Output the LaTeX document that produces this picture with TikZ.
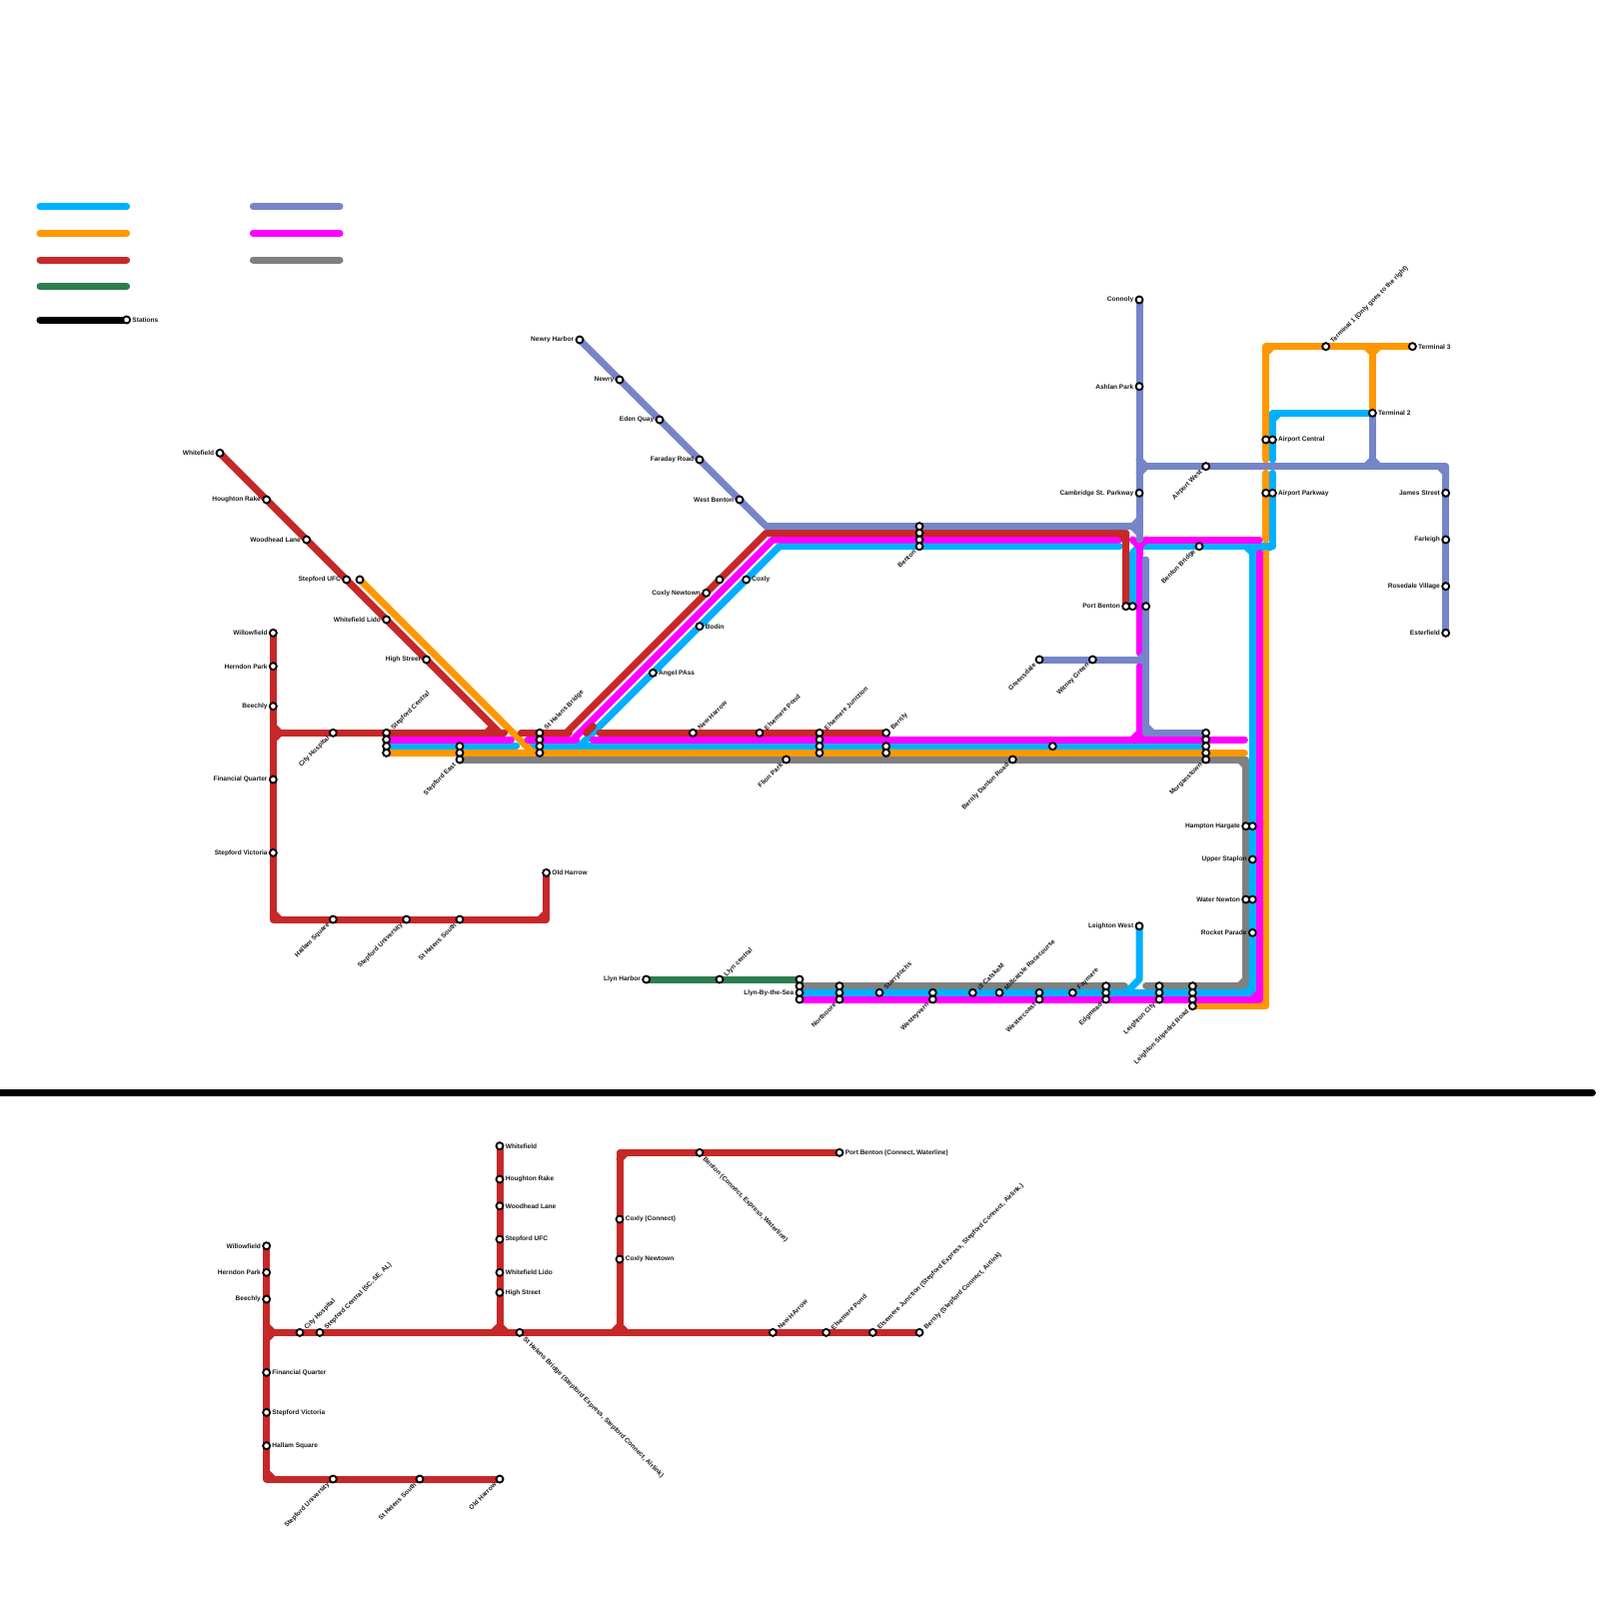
\documentclass[tikz,border=0pt]{standalone}
\usepackage{fontspec}
\setmainfont{Liberation Sans}
\usepackage{xcolor}
\definecolor{mapblue}{RGB}{0,176,255}
\definecolor{maporange}{RGB}{255,152,0}
\definecolor{mapred}{RGB}{198,40,40}
\definecolor{mapgreen}{RGB}{46,125,80}
\definecolor{mappurple}{RGB}{117,133,200}
\definecolor{mapmagenta}{RGB}{255,0,255}
\definecolor{mapgray}{RGB}{128,128,128}
\usetikzlibrary{backgrounds}
\tikzset{
  mline/.style={line width=1.05mm, line cap=round, line join=round},
  lblue/.style={mline, mapblue},
  lorange/.style={mline, maporange},
  lred/.style={mline, mapred},
  lgreen/.style={mline, mapgreen},
  lpurple/.style={mline, mappurple},
  lmagenta/.style={mline, mapmagenta},
  lgray/.style={mline, mapgray},
  lblack/.style={mline, black},
  stn/.style={circle, draw=black, fill=white, line width=0.28mm, inner sep=0pt, minimum size=1.05mm},
  stlabel/.style={font=\fontsize{2.8}{3.3}\selectfont\bfseries, text=black!90, inner sep=0pt},
  lblL/.style={stlabel, xshift=-0.8mm, anchor=east},
  lblR/.style={stlabel, xshift=0.8mm, anchor=west},
  lblUR/.style={stlabel, xshift=0.85mm, yshift=0.55mm, rotate=45, anchor=west},
  lblDL/.style={stlabel, xshift=-0.65mm, yshift=-0.65mm, rotate=45, anchor=east},
  lblDR/.style={stlabel, xshift=0.6mm, yshift=-0.8mm, rotate=-45, anchor=west},
}

\begin{document}
\begin{tikzpicture}[x=1mm, y=-1mm]
  \useasboundingbox (0,0) rectangle (240,240);

  % Legend
  \node[stn] (legstn) at (19,48) {};
  \node[lblR] (legstnT) at (legstn) {Stations};
  \coordinate (legA) at (6,31);   \coordinate (legAe) at (19,31);
  \coordinate (legB) at (6,35);   \coordinate (legBe) at (19,35);
  \coordinate (legC) at (6,39);   \coordinate (legCe) at (19,39);
  \coordinate (legD) at (6,43);   \coordinate (legDe) at (19,43);
  \coordinate (legE) at (6,48);
  \coordinate (legF) at (38,31);  \coordinate (legFe) at (51,31);
  \coordinate (legG) at (38,35);  \coordinate (legGe) at (51,35);
  \coordinate (legH) at (38,39);  \coordinate (legHe) at (51,39);
  \coordinate (sepL) at (0,164);  \coordinate (sepR) at (239,164);

  % Red line, west branch
  \node[stn] (whitefield) at (33,68) {};    \node[lblL] (whitefieldT) at (whitefield) {Whitefield};
  \node[stn] (houghton) at (40,75) {};      \node[lblL] (houghtonT) at (houghton) {Houghton Rake};
  \node[stn] (woodhead) at (46,81) {};      \node[lblL] (woodheadT) at (woodhead) {Woodhead Lane};
  \node[stn] (ufc) at (52,87) {};           \node[lblL] (ufcT) at (ufc) {Stepford UFC};
  \node[stn] (ufcb) at (54,87) {};
  \node[stn] (lido) at (58,93) {};          \node[lblL] (lidoT) at (lido) {Whitefield Lido};
  \node[stn] (highst) at (64,99) {};        \node[lblL] (highstT) at (highst) {High Street};
  \node[stn] (willow) at (41,95) {};        \node[lblL] (willowT) at (willow) {Willowfield};
  \node[stn] (herndon) at (41,100) {};      \node[lblL] (herndonT) at (herndon) {Herndon Park};
  \node[stn] (beechly) at (41,106) {};      \node[lblL] (beechlyT) at (beechly) {Beechly};
  \node[stn] (finq) at (41,117) {};         \node[lblL] (finqT) at (finq) {Financial Quarter};
  \node[stn] (vict) at (41,128) {};         \node[lblL] (victT) at (vict) {Stepford Victoria};
  \node[stn] (hallam) at (50,138) {};       \node[lblDL] (hallamT) at (hallam) {Hallam Square};
  \node[stn] (univ) at (61,138) {};         \node[lblDL] (univT) at (univ) {Stepford University};
  \node[stn] (south) at (69,138) {};        \node[lblDL] (southT) at (south) {St Helens South};
  \node[stn] (oldh) at (82,131) {};         \node[lblR] (oldhT) at (oldh) {Old Harrow};
  \node[stn] (cityh) at (50,110) {};        \node[lblDL] (cityhT) at (cityh) {City Hospital};

  % Stacked interchanges along the main trunk
  \node[stn] (sca) at (58,110) {};  \node[stn] (scb) at (58,111) {};
  \node[stn] (scc) at (58,112) {};  \node[stn] (scd) at (58,113) {};
  \node[lblUR] (scT) at (sca) {Stepford Central};
  \node[stn] (sea) at (69,112) {};  \node[stn] (seb) at (69,113) {};  \node[stn] (sec) at (69,114) {};
  \node[lblDL] (seT) at (sec) {Stepford East};
  \node[stn] (hba) at (81,110) {};  \node[stn] (hbb) at (81,111) {};
  \node[stn] (hbc) at (81,112) {};  \node[stn] (hbd) at (81,113) {};
  \node[lblUR] (hbT) at (hba) {St Helens Bridge};
  \node[stn] (newh) at (104,110) {};   \node[lblUR] (newhT) at (newh) {New Harrow};
  \node[stn] (epond) at (114,110) {};  \node[lblUR] (epondT) at (epond) {Elsemere Pond};
  \node[stn] (eja) at (123,110) {};  \node[stn] (ejb) at (123,111) {};
  \node[stn] (ejc) at (123,112) {};  \node[stn] (ejd) at (123,113) {};
  \node[lblUR] (ejT) at (eja) {Elsemere Junction};
  \node[stn] (bera) at (133,110) {};  \node[stn] (berb) at (133,112) {};  \node[stn] (berc) at (133,113) {};
  \node[lblUR] (berT) at (bera) {Berrily};
  \node[stn] (flion) at (118,114) {};   \node[lblDL] (flionT) at (flion) {Flion Park};
  \node[stn] (bdr) at (152,114) {};     \node[lblDL] (bdrT) at (bdr) {Berrily Danton Road};
  \node[stn] (midb) at (158,112) {};
  \node[stn] (moa) at (181,110) {};  \node[stn] (mob) at (181,111) {};  \node[stn] (moc) at (181,112) {};
  \node[stn] (mod) at (181,113) {};  \node[stn] (moe) at (181,114) {};
  \node[lblDL] (moT) at (moe) {Morganstown};

  % Diagonals
  \node[stn] (cnewt) at (106,89) {};  \node[lblL] (cnewtT) at (cnewt) {Coxly Newtown};
  \node[stn] (cnewb) at (108,87) {};
  \node[stn] (coxly) at (112,87) {};  \node[lblR] (coxlyT) at (coxly) {Coxly};
  \node[stn] (bodin) at (105,94) {};  \node[lblR] (bodinT) at (bodin) {Bodin};
  \node[stn] (angel) at (98,101) {};  \node[lblR] (angelT) at (angel) {Angel PAss};
  \node[stn] (nharb) at (87,51) {};   \node[lblL] (nharbT) at (nharb) {Newry Harbor};
  \node[stn] (newry) at (93,57) {};   \node[lblL] (newryT) at (newry) {Newry};
  \node[stn] (eden) at (99,63) {};    \node[lblL] (edenT) at (eden) {Eden Quay};
  \node[stn] (farad) at (105,69) {};  \node[lblL] (faradT) at (farad) {Faraday Road};
  \node[stn] (wbent) at (111,75) {};  \node[lblL] (wbentT) at (wbent) {West Benton};

  % Top trunk and airport
  \node[stn] (bena) at (138,79) {};  \node[stn] (benb) at (138,80) {};
  \node[stn] (benc) at (138,81) {};  \node[stn] (bend) at (138,82) {};
  \node[lblDL] (benT) at (bend) {Benton};
  \node[stn] (connoly) at (171,45) {};  \node[lblL] (connolyT) at (connoly) {Connoly};
  \node[stn] (ashlan) at (171,58) {};   \node[lblL] (ashlanT) at (ashlan) {Ashlan Park};
  \node[stn] (cambr) at (171,74) {};    \node[lblL] (cambrT) at (cambr) {Cambridge St. Parkway};
  \node[stn] (pbena) at (169,91) {};  \node[stn] (pbenb) at (170,91) {};  \node[stn] (pbenc) at (172,91) {};
  \node[lblL] (pbenT) at (pbena) {Port Benton};
  \node[stn] (awest) at (181,70) {};  \node[lblDL] (awestT) at (awest) {Airport West};
  \node[stn] (bbrid) at (180,82) {};  \node[lblDL] (bbridT) at (bbrid) {Benton Bridge};
  \node[stn] (termA) at (199,52) {};  \node[lblUR] (termAT) at (termA) {Terminal 1 (Only goes to the right)};
  \node[stn] (termC) at (212,52) {};  \node[lblR] (termCT) at (termC) {Terminal 3};
  \node[stn] (termB) at (206,62) {};  \node[lblR] (termBT) at (termB) {Terminal 2};
  \node[stn] (acena) at (190,66) {};  \node[stn] (acenb) at (191,66) {};
  \node[lblR] (acenT) at (acenb) {Airport Central};
  \node[stn] (apara) at (190,74) {};  \node[stn] (aparb) at (191,74) {};
  \node[lblR] (aparT) at (aparb) {Airport Parkway};
  \node[stn] (james) at (217,74) {};  \node[lblL] (jamesT) at (james) {James Street};
  \node[stn] (farl) at (217,81) {};   \node[lblL] (farlT) at (farl) {Farleigh};
  \node[stn] (rose) at (217,88) {};   \node[lblL] (roseT) at (rose) {Rosedale Village};
  \node[stn] (ester) at (217,95) {};  \node[lblL] (esterT) at (ester) {Esterfield};
  \node[stn] (green) at (156,99) {};  \node[lblDL] (greenT) at (green) {Greensdale};
  \node[stn] (witney) at (164,99) {}; \node[lblDL] (witneyT) at (witney) {Witney Green};

  % East side
  \node[stn] (hama) at (187,124) {};  \node[stn] (hamb) at (188,124) {};
  \node[lblL] (hamT) at (hama) {Hampton Hargate};
  \node[stn] (upper) at (188,129) {}; \node[lblL] (upperT) at (upper) {Upper Staplon};
  \node[stn] (wata) at (187,135) {};  \node[stn] (watb) at (188,135) {};
  \node[lblL] (watT) at (wata) {Water Newton};
  \node[stn] (rocket) at (188,140) {};  \node[lblL] (rocketT) at (rocket) {Rocket Parade};
  \node[stn] (lwest) at (171,139) {};   \node[lblL] (lwestT) at (lwest) {Leighton West};

  % South trunk
  \node[stn] (lharb) at (97,147) {};  \node[lblL] (lharbT) at (lharb) {Llyn Harbor};
  \node[stn] (lcent) at (108,147) {}; \node[lblUR] (lcentT) at (lcent) {Llyn central};
  \node[stn] (lsa) at (120,147) {};  \node[stn] (lsb) at (120,148) {};
  \node[stn] (lsc) at (120,149) {};  \node[stn] (lsd) at (120,150) {};
  \node[lblL] (lsT) at (lsc) {Llyn-By-the-Sea};
  \node[stn] (nora) at (126,148) {};  \node[stn] (norb) at (126,149) {};  \node[stn] (norc) at (126,150) {};
  \node[lblDL] (norT) at (norc) {Northoore};
  \node[stn] (starry) at (132,149) {};  \node[lblUR] (starryT) at (starry) {Starrylochs};
  \node[stn] (weya) at (140,149) {};  \node[stn] (weyb) at (140,150) {};
  \node[lblDL] (weyT) at (weyb) {Westeyvern};
  \node[stn] (catsk) at (146,149) {};  \node[lblUR] (catskT) at (catsk) {ill CatskeM};
  \node[stn] (millc) at (150,149) {};  \node[lblUR] (millcT) at (millc) {Millcatsle Racecourse};
  \node[stn] (wcoa) at (156,149) {};  \node[stn] (wcob) at (156,150) {};
  \node[lblDL] (wcoT) at (wcob) {Westercoast};
  \node[stn] (faym) at (161,149) {};  \node[lblUR] (faymT) at (faym) {Faymere};
  \node[stn] (edga) at (166,148) {};  \node[stn] (edgb) at (166,149) {};  \node[stn] (edgc) at (166,150) {};
  \node[lblDL] (edgT) at (edgc) {Edgmead};
  \node[stn] (lcia) at (174,148) {};  \node[stn] (lcib) at (174,149) {};  \node[stn] (lcic) at (174,150) {};
  \node[lblDL] (lciT) at (lcic) {Leighton City};
  \node[stn] (lsra) at (179,148) {};  \node[stn] (lsrb) at (179,149) {};
  \node[stn] (lsrc) at (179,150) {};  \node[stn] (lsrd) at (179,151) {};
  \node[lblDL] (lsrT) at (lsrd) {Leighton Stipedrd Road};

  % Lower map
  \node[stn] (xwillow) at (40,187) {};   \node[lblL] (xwillowT) at (xwillow) {Willowfield};
  \node[stn] (xherndon) at (40,191) {};  \node[lblL] (xherndonT) at (xherndon) {Herndon Park};
  \node[stn] (xbeechly) at (40,195) {};  \node[lblL] (xbeechlyT) at (xbeechly) {Beechly};
  \node[stn] (xfinq) at (40,206) {};     \node[lblR] (xfinqT) at (xfinq) {Financial Quarter};
  \node[stn] (xvict) at (40,212) {};     \node[lblR] (xvictT) at (xvict) {Stepford Victoria};
  \node[stn] (xhallam) at (40,217) {};   \node[lblR] (xhallamT) at (xhallam) {Hallam Square};
  \node[stn] (xuniv) at (50,222) {};     \node[lblDL] (xunivT) at (xuniv) {Stepford University};
  \node[stn] (xsouth) at (63,222) {};    \node[lblDL] (xsouthT) at (xsouth) {St Helens South};
  \node[stn] (xoldh) at (75,222) {};     \node[lblDL] (xoldhT) at (xoldh) {Old Harrow};
  \node[stn] (xcityh) at (45,200) {};    \node[lblUR] (xcityhT) at (xcityh) {City Hospital};
  \node[stn] (xsc) at (48,200) {};       \node[lblUR] (xscT) at (xsc) {Stepford Central (SC, SE, AL)};
  \node[stn] (xwhite) at (75,172) {};    \node[lblR] (xwhiteT) at (xwhite) {Whitefield};
  \node[stn] (xhough) at (75,177) {};    \node[lblR] (xhoughT) at (xhough) {Houghton Rake};
  \node[stn] (xwood) at (75,181) {};     \node[lblR] (xwoodT) at (xwood) {Woodhead Lane};
  \node[stn] (xufc) at (75,186) {};      \node[lblR] (xufcT) at (xufc) {Stepford UFC};
  \node[stn] (xlido) at (75,191) {};     \node[lblR] (xlidoT) at (xlido) {Whitefield Lido};
  \node[stn] (xhigh) at (75,194) {};     \node[lblR] (xhighT) at (xhigh) {High Street};
  \node[stn] (xhb) at (78,200) {};       \node[lblDR] (xhbT) at (xhb) {St Helens Bridge (Stepford Express, Stepford Connect, Airlink)};
  \node[stn] (xcoxly) at (93,183) {};    \node[lblR] (xcoxlyT) at (xcoxly) {Coxly (Connect)};
  \node[stn] (xcnewt) at (93,189) {};    \node[lblR] (xcnewtT) at (xcnewt) {Coxly Newtown};
  \node[stn] (xbenton) at (105,173) {};  \node[lblDR] (xbentonT) at (xbenton) {Benton (Connect, Express, Waterline)};
  \node[stn] (xpben) at (126,173) {};    \node[lblR] (xpbenT) at (xpben) {Port Benton (Connect, Waterline)};
  \node[stn] (xnewh) at (116,200) {};    \node[lblUR] (xnewhT) at (xnewh) {New HArrow};
  \node[stn] (xepond) at (124,200) {};   \node[lblUR] (xepondT) at (xepond) {Elsemere Pond};
  \node[stn] (xej) at (131,200) {};      \node[lblUR] (xejT) at (xej) {Elsemere Junction (Stepford Express, Stepford Connect, Airlink.)};
  \node[stn] (xber) at (138,200) {};     \node[lblUR] (xberT) at (xber) {Berrily (Stepford Connect, Airlink)};

  % Free line ends and bends
  \coordinate (redHub) at (41,110);      \coordinate (redFoot) at (41,138);
  \coordinate (redCorn) at (82,138);     \coordinate (redDiag) at (75,110);
  \coordinate (redGapL) at (75.7,110);   \coordinate (redGapR) at (78.2,110);
  \coordinate (redElbow) at (85,110);    \coordinate (redTop) at (115,80);
  \coordinate (redStub) at (85.4,110);
  \coordinate (redEast) at (169,80);     \coordinate (redNubA) at (88,110);
  \coordinate (redNubB) at (89,109);     \coordinate (redResume) at (90,110);
  \coordinate (magGapL) at (76.7,111);   \coordinate (magGapR) at (79.2,111);
  \coordinate (magElbow) at (86,111);    \coordinate (magTop) at (116,81);
  \coordinate (magStub) at (86.5,111);
  \coordinate (magEndW) at (168,81);     \coordinate (magEndE) at (172,81);
  \coordinate (magCross) at (189,81);    \coordinate (magResume) at (89,111);
  \coordinate (magRowE) at (186.8,111);  \coordinate (magStemA) at (171,82);
  \coordinate (magStemB) at (171,98);    \coordinate (magStemC) at (171,100);
  \coordinate (magStemD) at (171,111);   \coordinate (magColT) at (189,83);
  \coordinate (magSouth) at (189,150);
  \coordinate (bluGapL) at (77.5,112);   \coordinate (bluGapR) at (79.5,112);
  \coordinate (bluElbow) at (87,112);    \coordinate (bluTop) at (117,82);
  \coordinate (bluEndW) at (168,82);     \coordinate (bluNeck) at (171,82);
  \coordinate (bluElb) at (170,83);      \coordinate (bluCol) at (188,83);
  \coordinate (bluCorn) at (191,82);     \coordinate (bluUp) at (191,71);
  \coordinate (bluUpB) at (191,69);      \coordinate (bluBend) at (191,62);
  \coordinate (bluSouth) at (188,149);   \coordinate (bluWest) at (171,147);
  \coordinate (bluFoot) at (169,149);
  \coordinate (orgDiag) at (80,113);     \coordinate (orgEast) at (186.8,113);
  \coordinate (orgCol) at (190,71);      \coordinate (orgColT) at (190,81);
  \coordinate (orgColU) at (190,83);     \coordinate (orgFoot) at (190,151);
  \coordinate (orgUp) at (190,69);       \coordinate (orgCorn) at (190,52);
  \coordinate (orgJoin) at (206,52);
  \coordinate (gryEast) at (187,114);    \coordinate (gryLow) at (187,148);
  \coordinate (gryGapL) at (168.8,148);  \coordinate (gryGapR) at (172,148);
  \coordinate (purTop) at (115,79);      \coordinate (purEast) at (170,79);
  \coordinate (purBend) at (171,78);     \coordinate (purTail) at (171,81);
  \coordinate (purHub) at (171,70);      \coordinate (purCorn) at (217,70);
  \coordinate (purJoin) at (206,70);     \coordinate (purStem) at (172,84);
  \coordinate (purLow) at (172,110);     \coordinate (purLink) at (172,99);
  \coordinate (xredHub) at (40,200);     \coordinate (xredFoot) at (40,222);
  \coordinate (xredT) at (75,200);       \coordinate (xredU) at (93,200);
  \coordinate (xredCorn) at (93,173);

  \begin{scope}[on background layer]
    % Legend lines
    \draw[lblue] (legA) -- (legAe);
    \draw[lorange] (legB) -- (legBe);
    \draw[lred] (legC) -- (legCe);
    \draw[lgreen] (legD) -- (legDe);
    \draw[lblack] (legE) -- (legstn.center);
    \draw[lpurple] (legF) -- (legFe);
    \draw[lmagenta] (legG) -- (legGe);
    \draw[lgray] (legH) -- (legHe);
    \draw[lblack] (sepL) -- (sepR);

    % Gray
    \draw[lgray] (sec.center) -- (gryEast) -- (gryLow) -- (gryGapR);
    \draw[lgray] (186,114) -- (187,115);
    \draw[lgray] (186,148) -- (187,147);
    \draw[lgray] (lsb.center) -- (gryGapL);

    % Blue
    \draw[lblue] (scc.center) -- (bluGapL);
    \draw[lblue] (bluGapR) -- (moc.center);
    \draw[lblue] (bluElbow) -- (bluTop) -- (bluEndW);
    \draw[lblue] (lsc.center) -- (bluSouth) -- (bluCol) -- (bluCorn) -- (bluUp);
    \draw[lblue] (187,149) -- (188,148);
    \draw[lblue] (bluNeck) -- (bluCorn);
    \draw[lblue] (pbenb.center) -- (bluElb) -- (bluNeck);
    \draw[lblue] (bluUpB) -- (bluBend) -- (termB.center);
    \draw[lblue] (191,63) -- (192,62);
    \draw[lblue] (lwest.center) -- (bluWest) -- (bluFoot);
    \draw[lblue] (187,82) -- (188,83);

    % Orange
    \draw[lorange] (ufcb.center) -- (orgDiag);
    \draw[lorange] (scd.center) -- (orgEast);
    \fill[maporange] (77.7,113.5) -- (79.2,112) -- (81,113.5) -- cycle;
    \draw[lorange] (lsrd.center) -- (orgFoot) -- (orgColU);
    \draw[lorange] (orgCol) -- (orgColT);
    \draw[lorange] (orgUp) -- (orgCorn) -- (termC.center);
    \draw[lorange] (orgJoin) -- (termB.center);
    \draw[lorange] (190,53) -- (191,52);
    \draw[lorange] (205,52) -- (206,53) -- (207,52);

    % Magenta
    \draw[lmagenta] (scb.center) -- (magGapL);
    \draw[lmagenta] (magGapR) -- (magStub);
    \draw[lmagenta] (magElbow) -- (magTop) -- (magEndW);
    \draw[lmagenta] (magResume) -- (magRowE);
    \draw[lmagenta] (magEndE) -- (magCross);
    \draw[lmagenta] (170,81) -- (magStemA) -- (magEndE);
    \draw[lmagenta] (magStemA) -- (magStemB);
    \draw[lmagenta] (magStemC) -- (magStemD);
    \draw[lmagenta] (170,111) -- (171,110) -- (172,111);
    \draw[lmagenta] (lsd.center) -- (magSouth) -- (magColT);
    \draw[lmagenta] (188,150) -- (189,149);

    % Red
    \draw[lred] (whitefield.center) -- (redDiag);
    \draw[lred] (willow.center) -- (redFoot) -- (redCorn) -- (oldh.center);
    \draw[lred] (redHub) -- (redGapL);
    \draw[lred] (42,110) -- (41,109);
    \draw[lred] (42,110) -- (41,111);
    \draw[lred] (42,138) -- (41,137);
    \draw[lred] (81,138) -- (82,137);
    \draw[lred] (73,110) -- (74,109);
    \draw[lred] (redGapR) -- (redStub);
    \draw[lred] (redElbow) -- (redTop) -- (redEast) -- (pbena.center);
    \draw[lred] (168,80) -- (169,81);
    \draw[lred] (redNubA) -- (redNubB);
    \draw[lred] (redResume) -- (bera.center);

    % Purple
    \draw[lpurple] (nharb.center) -- (purTop) -- (purEast) -- (purBend);
    \draw[lpurple] (connoly.center) -- (purTail);
    \draw[lpurple] (purHub) -- (purCorn) -- (ester.center);
    \draw[lpurple] (171,71) -- (172,70) -- (171,69);
    \draw[lpurple] (216,70) -- (217,71);
    \draw[lpurple] (termB.center) -- (purJoin);
    \draw[lpurple] (205,70) -- (206,69) -- (207,70);
    \draw[lpurple] (170,79) -- (171,80);
    \draw[lpurple] (purStem) -- (purLow) -- (moa.center);
    \draw[lpurple] (172,109) -- (173,110);
    \draw[lpurple] (green.center) -- (purLink);
    \draw[lpurple] (171,99) -- (172,98);

    % Green
    \draw[lgreen] (lharb.center) -- (lsa.center);

    % Lower map
    \draw[lred] (xwillow.center) -- (xredFoot) -- (xoldh.center);
    \draw[lred] (xredHub) -- (xber.center);
    \draw[lred] (xwhite.center) -- (xredT);
    \draw[lred] (xredU) -- (xredCorn) -- (xpben.center);
    \draw[lred] (41,200) -- (40,199);
    \draw[lred] (41,200) -- (40,201);
    \draw[lred] (41,222) -- (40,221);
    \draw[lred] (74,200) -- (75,199) -- (76,200);
    \draw[lred] (92,200) -- (93,199) -- (94,200);
    \draw[lred] (93,174) -- (94,173);
  \end{scope}
\end{tikzpicture}
\end{document}
